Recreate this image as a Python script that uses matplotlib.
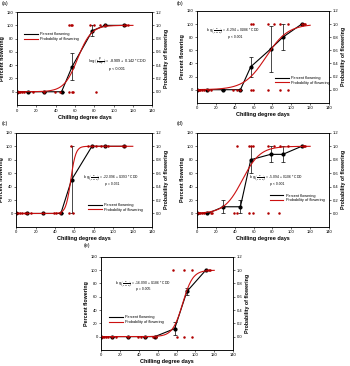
import numpy as np
import matplotlib
matplotlib.use('Agg')
import matplotlib.pyplot as plt
from matplotlib.lines import Line2D

plt.rcParams['font.family'] = ['Liberation Sans', 'DejaVu Sans']

# CDD values where percent flowering was measured (same for all panels)
CDD_MEAN = [0, 11, 28, 46, 57, 78, 91, 111]

# Percent flowering (mean) and error bars per panel
PCT_A = [0, 0, 0, 0, 38, 92, 100, 100]
ERR_A = [0, 0, 0, 0, 21, 8, 0, 0]
PCT_B = [0, 0, 0, 0, 35, 62, 80, 100]
ERR_B = [0, 0, 0, 0, 15, 35, 20, 0]
PCT_C = [0, 0, 0, 0, 50, 100, 100, 100]
ERR_C = [0, 0, 0, 0, 50, 0, 0, 0]
PCT_D = [0, 0, 10, 10, 80, 88, 88, 100]
ERR_D = [0, 0, 10, 10, 20, 12, 12, 0]
PCT_E = [0, 0, 0, 0, 0, 12, 68, 100]
ERR_E = [0, 0, 0, 0, 0, 10, 5, 0]

# Individual plants: CDD where flowering (1) / not flowering (0)
ONES_A = [54, 56, 57, 75, 80, 86, 91, 111, 113, 115]
ZEROS_A = [0, 2, 3, 5, 7, 16, 28, 39, 44, 54, 57, 58, 82]
ONES_B = [57, 59, 75, 82, 88, 96, 111, 113, 115]
ZEROS_B = [0, 2, 3, 5, 7, 12, 15, 38, 42, 46, 57, 59, 75, 88, 96]
ONES_C = [56, 74, 78, 82, 87, 91, 95, 110, 112]
ZEROS_C = [0, 2, 4, 6, 9, 11, 15, 28, 39, 41, 45, 54, 58]
ONES_D = [42, 55, 57, 59, 75, 82, 88, 96, 112, 114, 115]
ZEROS_D = [0, 2, 3, 5, 7, 15, 16, 39, 42, 55, 59, 75, 87]
ONES_E = [76, 88, 96, 112, 114, 115]
ZEROS_E = [1, 3, 5, 7, 12, 16, 28, 39, 42, 46, 55, 58, 81, 88, 96]

# Logistic model coefficients (intercept, slope) and p-value text
COEF_A = (-8.909, 0.142)
COEF_B = (-6.294, 0.086)
COEF_C = (-22.096, 0.393)
COEF_D = (-5.094, 0.106)
COEF_E = (-16.090, 0.186)
PVAL_A = 'p < 0.001'
PVAL_B = 'p < 0.001'
PVAL_C = 'p = 0.031'
PVAL_D = 'p < 0.001'
PVAL_E = 'p = 0.005'

RED = '#cc1111'


def draw_panel(fig, rect, tag, tag_px, pct, err, ones, zeros, coef, pval,
               leg_xy, eq_xy, eq_size=2.4, eq_gap=8):
    ax = fig.add_axes(rect)
    ax2 = ax.twinx()

    ax.errorbar(CDD_MEAN, pct, yerr=err, color='black', lw=0.8,
                marker='o', ms=2.0, capsize=1.5, elinewidth=0.5,
                capthick=0.5, zorder=3)

    xs = np.linspace(0, 120, 200)
    b0, b1 = coef
    ax2.plot(xs, 1 / (1 + np.exp(-(b0 + b1 * xs))), color=RED, lw=0.8)
    ax2.plot(ones, [1] * len(ones), 'o', color='#b00000', ms=1.8, mew=0)
    ax2.plot(zeros, [0] * len(zeros), 'o', color='#b00000', ms=1.8, mew=0)

    ax.set_xlim(0, 140)
    ax.set_ylim(-20, 120)
    ax.set_xticks(range(0, 141, 20))
    ax.set_yticks(range(0, 121, 20))
    ax2.set_ylim(-0.2, 1.2)
    ax2.set_yticks(np.arange(0, 1.21, 0.2))
    ax2.set_yticklabels([f'{v:.1f}' for v in np.arange(0, 1.21, 0.2)])

    for a in (ax, ax2):
        a.tick_params(labelsize=3.0, length=1.5, width=0.4, pad=1)
        for s in a.spines.values():
            s.set_linewidth(0.5)

    ax.set_xlabel('Chilling degree days', fontsize=4.0, fontweight='bold',
                  labelpad=1.5)
    ax.set_ylabel('Percent flowering', fontsize=3.8, fontweight='bold',
                  labelpad=1.5)
    ax2.set_ylabel('Probability of flowering', fontsize=3.8,
                   fontweight='bold', labelpad=2)

    handles = [Line2D([], [], color='black', lw=0.8),
               Line2D([], [], color=RED, lw=0.8)]
    ax2.legend(handles, ['Percent flowering', 'Probability of flowering'],
               loc='upper left', bbox_to_anchor=leg_xy, fontsize=2.8,
               frameon=False, handlelength=3.5, labelspacing=0.2,
               borderaxespad=0, handletextpad=0.6)

    eq = (r'$\log\left(\frac{p}{1-p}\right)$' +
          f' = {b0:.3f} + {b1:.3f} * CDD')
    ax.text(eq_xy[0], eq_xy[1], eq, fontsize=eq_size, va='center',
            ha='left', zorder=5)
    ax.text(eq_xy[0] + 30, eq_xy[1] - eq_gap, pval, fontsize=eq_size,
            va='center', ha='center', zorder=5)

    fig.text(tag_px[0] / 350, 1 - tag_px[1] / 366, tag, fontsize=3.8,
             va='top', ha='left')
    return ax


fig = plt.figure(figsize=(3.5, 3.66), dpi=100)

draw_panel(fig, [0.049, 0.713, 0.386, 0.254], '(a)', (2, 1), PCT_A, ERR_A,
           ONES_A, ZEROS_A, COEF_A, PVAL_A, (0.04, 0.80), (73, 45),
           eq_size=2.7, eq_gap=11)
draw_panel(fig, [0.563, 0.719, 0.377, 0.251], '(b)', (177, 1), PCT_B, ERR_B,
           ONES_B, ZEROS_B, COEF_B, PVAL_B, (0.58, 0.31), (10, 90),
           eq_gap=10)
draw_panel(fig, [0.046, 0.380, 0.389, 0.257], '(c)', (2, 121), PCT_C, ERR_C,
           ONES_C, ZEROS_C, COEF_C, PVAL_C, (0.52, 0.27), (69, 52))
draw_panel(fig, [0.563, 0.380, 0.377, 0.257], '(d)', (177, 121), PCT_D, ERR_D,
           ONES_D, ZEROS_D, COEF_D, PVAL_D, (0.54, 0.37), (55, 52))
draw_panel(fig, [0.289, 0.044, 0.377, 0.254], '(e)', (84, 243), PCT_E, ERR_E,
           ONES_E, ZEROS_E, COEF_E, PVAL_E, (0.05, 0.39), (15, 79))

fig.savefig('out.png', dpi=100)
